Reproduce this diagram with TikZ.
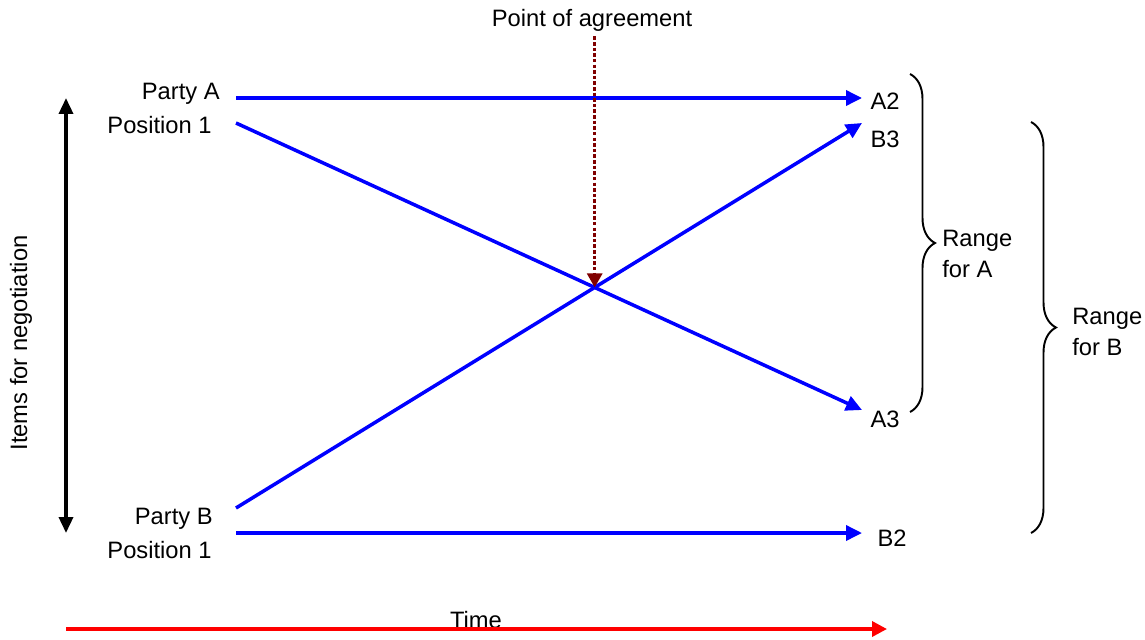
\documentclass[tikz,border=0pt]{standalone}
\usepackage{fontspec}
\setmainfont{Liberation Sans}
\usetikzlibrary{arrows.meta,decorations.pathreplacing}
\definecolor{darkred}{RGB}{128,0,0}
\tikzset{
  lbl/.style={font=\fontsize{13.5}{18}\selectfont, inner sep=0pt},
  move/.style={draw=blue, line width=2pt, -{Triangle[length=0.32cm,width=0.3cm]}},
  rng/.style={draw, line width=1.1pt, decorate, decoration={brace, amplitude=0.5cm}},
}
\begin{document}
\begin{tikzpicture}[x={0.02cm}, y={-0.02cm}]
            \useasboundingbox (0,0) rectangle (1145,639);
            % party labels
            \node[lbl, anchor=east] (partyA) at (220,94) {Party A};
            \node[lbl, anchor=east] (posA) at (212,125) {Position 1};
            \node[lbl, anchor=east] (partyB) at (213,519) {Party B};
            \node[lbl, anchor=east] (posB) at (212,550) {Position 1};
            \node[lbl] (A2) at (885,101) {A2};
            \node[lbl] (B3) at (885,139) {B3};
            \node[lbl] (A3) at (885,419) {A3};
            \node[lbl] (B2) at (892,538) {B2};
            \node[lbl] (agree) at (592,20) {Point of agreement};
            \node[lbl] (time) at (476,620) {Time};
            \node[lbl, rotate=90] (items) at (21,343) {Items for negotiation};
            \node[lbl, anchor=west, align=left] (rangeA) at (942,254) {Range\\for A};
            \node[lbl, anchor=west, align=left] (rangeB) at (1072,332) {Range\\for B};
            % line ends
            \coordinate (a1) at (236,98);   \coordinate (a2) at (862,98);
            \coordinate (a1d) at (236,123); \coordinate (a3) at (862,410);
            \coordinate (b1d) at (236,508); \coordinate (b3) at (862,123);
            \coordinate (b1) at (236,533);  \coordinate (b2) at (862,533);
            \coordinate (cross) at (intersection of a1d--a3 and b1d--b3);
            \draw[move] (a1) -- (a2);
            \draw[move] (a1d) -- (a3);
            \draw[move] (b1d) -- (b3);
            \draw[move] (b1) -- (b2);
            \draw[line width=1.7pt, darkred, dash pattern=on 2pt off 1.2pt,
                  -{Triangle[length=0.28cm,width=0.3cm]}] (agree.south -| cross) ++(0,5) -- (cross);
            % axes
            \coordinate (itop) at (66,98); \coordinate (ibot) at (66,533);
            \draw[line width=2pt, {Triangle[length=0.32cm,width=0.28cm]}-{Triangle[length=0.32cm,width=0.28cm]}] (itop) -- (ibot);
            \coordinate (t0) at (66,629); \coordinate (t1) at (887,629);
            \draw[red, line width=2pt, -{Triangle[length=0.3cm,width=0.3cm]}] (t0) -- (t1);
            % ranges
            \draw[rng] (910,74) -- (910,412);
            \draw[rng] (1031,122) -- (1031,533);
        \end{tikzpicture}
\end{document}
